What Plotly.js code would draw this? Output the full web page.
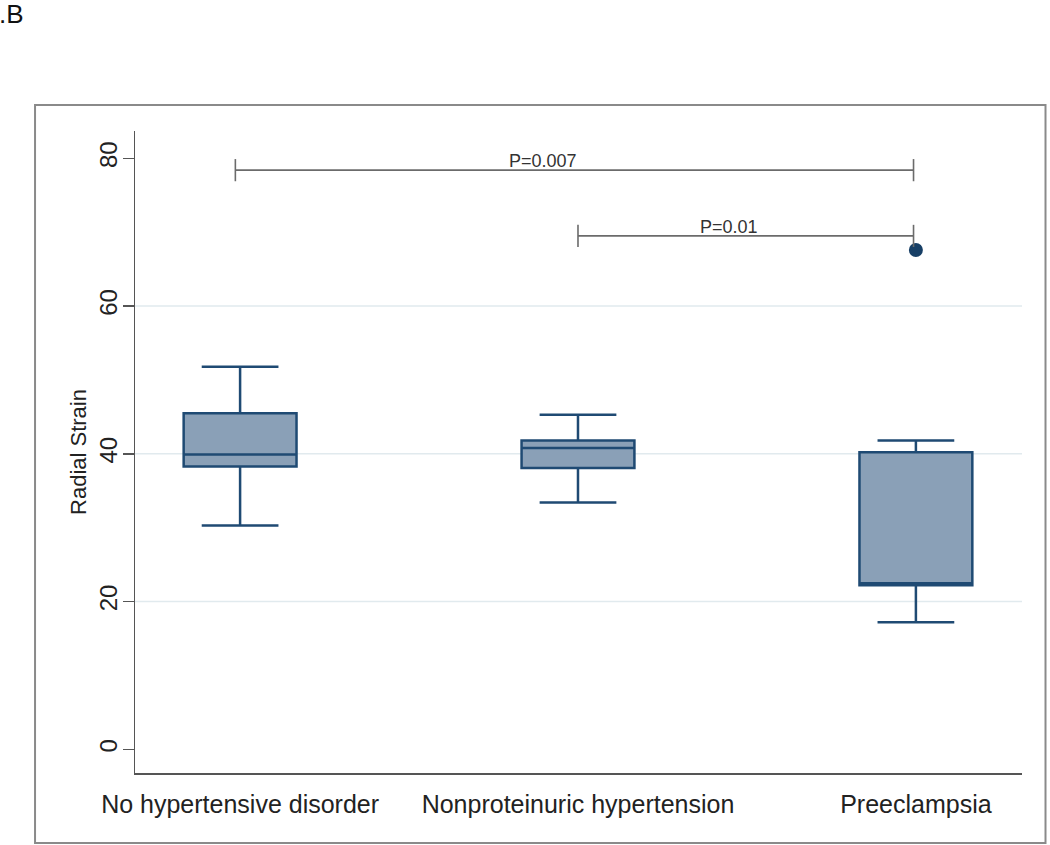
<!DOCTYPE html>
<html>
<head>
<meta charset="utf-8">
<script src="https://cdn.plot.ly/plotly-3.0.1.min.js"></script>
<style>
  html, body { margin: 0; padding: 0; background: #fff; }
  #chart { width: 1050px; height: 845px; }
</style>
</head>
<body>
<div id="chart"></div>
<script>
// ---- data ----
const categories = ["No hypertensive disorder", "Nonproteinuric hypertension", "Preeclampsia"];
const lowerWhisker = [30.3, 33.4, 17.2];
const q1Values = [38.3, 38.1, 22.2];
const medianValues = [39.9, 40.8, 22.5];
const q3Values = [45.5, 41.8, 40.2];
const upperWhisker = [51.8, 45.3, 41.8];
const outlierGroup = [2];
const outlierValues = [67.6];
const bracketFrom = [0, 1];
const bracketTo = [2, 2];
const bracketY = [78.4, 69.5];
const bracketLabels = ["P=0.007", "P=0.01"];
const yTicks = [0, 20, 40, 60, 80];
const gridValues = [20, 40, 60];

// ---- styles ----
const FONT = "Liberation Sans, Arial, sans-serif";
const boxLine = "#1f4a73";
const boxFill = "#8aa0b7";
const axisColor = "#555555";
const bracketColor = "#6b6b6b";
const catIdx = categories.map((c, i) => i);

const traces = [
  {
    type: "box",
    x: catIdx,
    q1: q1Values,
    median: medianValues,
    q3: q3Values,
    lowerfence: lowerWhisker,
    upperfence: upperWhisker,
    width: 0.334,
    whiskerwidth: 0.68,
    boxpoints: false,
    fillcolor: boxFill,
    line: { color: boxLine, width: 2.5 },
    hoverinfo: "skip",
    showlegend: false
  },
  {
    type: "scatter",
    mode: "markers",
    x: outlierGroup,
    y: outlierValues,
    marker: { color: "#173f66", size: 14 },
    hoverinfo: "skip",
    showlegend: false
  }
];

const shapes = [];
gridValues.forEach(v => {
  shapes.push({ type: "line", xref: "paper", yref: "y", x0: 0, x1: 1, y0: v, y1: v,
    line: { color: "#e1eaee", width: 1.5 }, layer: "below" });
});
const tickHalf = 1.5;
const startInset = [0.014, 0];
const endInset = 0.007;
bracketFrom.forEach((f, i) => {
  const t = bracketTo[i], yv = bracketY[i];
  const a = f - startInset[i], b = t - endInset;
  shapes.push({ type: "line", xref: "x", yref: "y", x0: a, x1: b, y0: yv, y1: yv,
    line: { color: bracketColor, width: 1.6 } });
  shapes.push({ type: "line", xref: "x", yref: "y", x0: a, x1: a, y0: yv - tickHalf, y1: yv + tickHalf,
    line: { color: bracketColor, width: 1.6 } });
  shapes.push({ type: "line", xref: "x", yref: "y", x0: b, x1: b, y0: yv - tickHalf, y1: yv + tickHalf,
    line: { color: bracketColor, width: 1.6 } });
});
// outer frame
shapes.push({ type: "rect", xref: "paper", yref: "paper",
  x0: -0.1127, x1: 1.0265, y0: -0.109, y1: 1.0405,
  line: { color: "#8a8a8a", width: 2 }, fillcolor: "rgba(0,0,0,0)" });

const labelShift = [-35, -18];
const annotations = bracketLabels.map((txt, i) => ({
  x: (bracketFrom[i] + bracketTo[i]) / 2, y: bracketY[i], xref: "x", yref: "y",
  text: txt, showarrow: false, xanchor: "center", yanchor: "bottom",
  xshift: labelShift[i], yshift: -3,
  font: { family: FONT, size: 18, color: "#333333" }
}));
annotations.push({
  xref: "paper", yref: "paper", x: -0.1555, y: 1.183, xanchor: "left", yanchor: "middle",
  text: ".B", showarrow: false, font: { family: FONT, size: 26, color: "#111111" }
});

const layout = {
  width: 1050,
  height: 845,
  margin: { l: 135, r: 28, t: 131, b: 72 },
  paper_bgcolor: "#ffffff",
  plot_bgcolor: "#ffffff",
  font: { family: FONT, color: "#222222" },
  xaxis: {
    type: "linear",
    range: [-0.311, 2.314],
    tickvals: catIdx,
    ticktext: categories,
    ticks: "",
    ticklabelstandoff: 8,
    showgrid: false,
    zeroline: false,
    showline: true,
    linecolor: axisColor,
    linewidth: 1.5,
    tickfont: { family: FONT, size: 25, color: "#222222" },
    fixedrange: true
  },
  yaxis: {
    range: [-3.2, 83.7],
    tickvals: yTicks,
    ticks: "outside",
    ticklen: 11,
    tickwidth: 1.5,
    tickcolor: axisColor,
    tickangle: -90,
    ticklabelstandoff: -4,
    showgrid: false,
    zeroline: false,
    showline: true,
    linecolor: axisColor,
    linewidth: 1.5,
    tickfont: { family: FONT, size: 24, color: "#222222" },
    title: { text: "Radial Strain", font: { family: FONT, size: 22, color: "#222222" }, standoff: 2 },
    fixedrange: true
  },
  shapes: shapes,
  annotations: annotations,
  showlegend: false
};

Plotly.newPlot("chart", traces, layout, { displayModeBar: false, staticPlot: true });
</script>
</body>
</html>
